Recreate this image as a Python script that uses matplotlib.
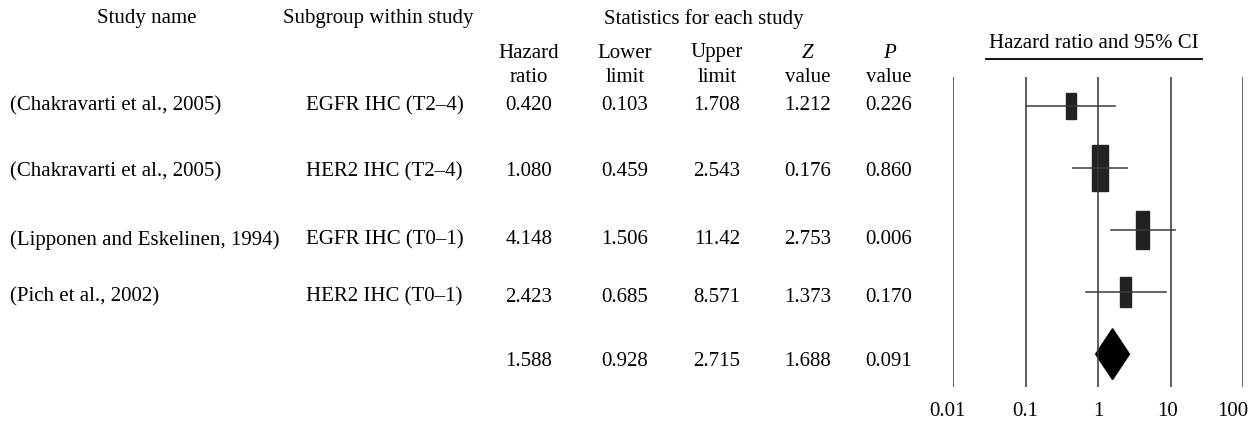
import numpy as np
import matplotlib.pyplot as plt
import matplotlib.transforms as mtransforms
from matplotlib.patches import Rectangle, Polygon
from matplotlib.lines import Line2D

plt.rcParams["font.family"] = ["Liberation Serif", "DejaVu Serif"]

studies = ["(Chakravarti et al., 2005)", "(Chakravarti et al., 2005)",
           "(Lipponen and Eskelinen, 1994)", "(Pich et al., 2002)"]
subgroups = ["EGFR IHC (T2\u20134)", "HER2 IHC (T2\u20134)",
             "EGFR IHC (T0\u20131)", "HER2 IHC (T0\u20131)"]
hr = [0.420, 1.080, 4.148, 2.423]
lower = [0.103, 0.459, 1.506, 0.685]
upper = [1.708, 2.543, 11.42, 8.571]
z_val = [1.212, 0.176, 2.753, 1.373]
p_val = [0.226, 0.860, 0.006, 0.170]
# relative box weights (width, height)
box_w = [0.14, 0.22, 0.18, 0.15]
box_h = [0.42, 0.74, 0.61, 0.48]

pooled = dict(hr=1.588, lower=0.928, upper=2.715, z=1.688, p=0.091)

ticks = [0.01, 0.1, 1, 10, 100]
tick_labels = ["0.01", "0.1", "1", "10", "100"]

W, H = 1255, 427
fig = plt.figure(figsize=(W / 100, H / 100), dpi=100)


def fx(px):
    return px / W


def fy(py):
    # +2 px: serif text sits slightly high with va="center"
    return 1 - (py + 2) / H


fs = 15

# headers
fig.text(fx(147), fy(17), "Study name", ha="center", va="center", fontsize=fs)
fig.text(fx(378), fy(17), "Subgroup within study", ha="center", va="center", fontsize=fs)
fig.text(fx(704), fy(17), "Statistics for each study", ha="center", va="center", fontsize=fs)

col_x = [529, 625, 717, 808, 889]
head1 = ["Hazard", "Lower", "Upper", "Z", "P"]
head2 = ["ratio", "limit", "limit", "value", "value"]
for i in range(5):
    style = "italic" if head1[i] in ("Z", "P") else "normal"
    fig.text(fx(col_x[i]), fy(51), head1[i], ha="center", va="center",
             fontsize=fs, style=style)
    fig.text(fx(col_x[i]), fy(76), head2[i], ha="center", va="center", fontsize=fs)

# table rows
text_y = [104, 170, 238, 295, 359]
for i in range(len(studies)):
    y = fy(text_y[i])
    fig.text(fx(10), y, studies[i], ha="left", va="center", fontsize=fs)
    fig.text(fx(306), y, subgroups[i], ha="left", va="center", fontsize=fs)
    vals = [f"{hr[i]:.3f}", f"{lower[i]:.3f}",
            f"{upper[i]:.2f}" if upper[i] >= 10 else f"{upper[i]:.3f}",
            f"{z_val[i]:.3f}", f"{p_val[i]:.3f}"]
    for cx, v in zip(col_x, vals):
        fig.text(fx(cx), y, v, ha="center", va="center", fontsize=fs)

pvals = [f"{pooled['hr']:.3f}", f"{pooled['lower']:.3f}", f"{pooled['upper']:.3f}",
         f"{pooled['z']:.3f}", f"{pooled['p']:.3f}"]
for cx, v in zip(col_x, pvals):
    fig.text(fx(cx), fy(text_y[4]), v, ha="center", va="center", fontsize=fs)

# forest plot
ax = fig.add_axes([953 / W, 1 - 388 / H, (1243 - 953) / W, (388 - 78) / H])
ax.set_xlim(-2, 2)
ax.set_ylim(4.53, -0.47)
for t in ticks:
    ax.axvline(np.log10(t), color="#333333", lw=1.1)

for i in range(len(hr)):
    ax.plot([np.log10(lower[i]), np.log10(upper[i])], [i, i], color="#3a3a3a", lw=1.1)
    c = np.log10(hr[i])
    ax.add_patch(Rectangle((c - box_w[i] / 2, i - box_h[i] / 2), box_w[i], box_h[i],
                           facecolor="#222222", edgecolor="#222222"))

c = np.log10(pooled["hr"])
ax.add_patch(Polygon([[np.log10(pooled["lower"]), 4], [c, 4 - 0.41],
                      [np.log10(pooled["upper"]), 4], [c, 4 + 0.41]],
                     closed=True, facecolor="black", edgecolor="black"))

ax.set_xticks(np.log10(ticks))
ax.set_xticklabels(tick_labels, fontsize=fs)
ax.tick_params(axis="x", length=0, pad=10)
ax.set_yticks([])
for s in ax.spines.values():
    s.set_visible(False)
# nudge the end labels inwards like the reference
shifts = [-6, 0, 0, -3, -10]
for lab, dx in zip(ax.get_xticklabels(), shifts):
    lab.set_transform(lab.get_transform() +
                      mtransforms.ScaledTranslation(dx / 100, 0, fig.dpi_scale_trans))

fig.text(fx(1094), fy(42), "Hazard ratio and 95% CI", ha="center", va="center", fontsize=fs)
fig.add_artist(Line2D([fx(986), fx(1202)], [1 - 60 / H, 1 - 60 / H], color="black", lw=1.3))

fig.savefig("out.png", dpi=100)
